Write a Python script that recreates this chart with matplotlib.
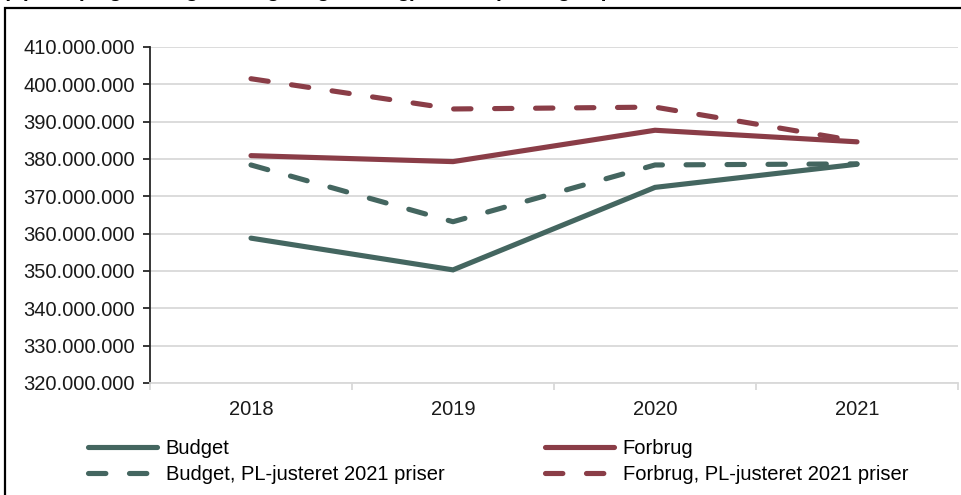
import matplotlib
matplotlib.use("Agg")
import matplotlib.pyplot as plt
from matplotlib.patches import Rectangle
from matplotlib.ticker import FuncFormatter, FixedLocator

plt.rcParams['font.family'] = ['Liberation Sans', 'DejaVu Sans']
plt.rcParams['lines.scale_dashes'] = False

# data (kr.)
years = ['2018', '2019', '2020', '2021']
budget = [358.8e6, 350.3e6, 372.4e6, 378.6e6]
forbrug = [380.9e6, 379.3e6, 387.7e6, 384.6e6]
budget_pl = [378.4e6, 363.2e6, 378.4e6, 378.7e6]
forbrug_pl = [401.5e6, 393.4e6, 393.9e6, 384.8e6]

green = '#446660'
red = '#8a3d47'

fig = plt.figure(figsize=(9.61, 4.95), dpi=100)

# outer frame + cut-off heading
fig.patches.append(Rectangle((5/961, -0.05), 1.0, 1 - 8/495 + 0.05, transform=fig.transFigure,
                             fill=False, edgecolor='#000000', linewidth=1.6))
fig.text(0.003, 1 + 3/495, '(opdelt på grundlag af budget og forbrug), samt opdeling af priser',
         fontsize=15, fontweight='bold', va='baseline', ha='left', color='black')

ax = fig.add_axes([150/961, 112/495, 808/961, 336/495])

x = range(len(years))
lw = 3.7
ax.plot(x, budget, color=green, lw=lw, solid_capstyle='round', solid_joinstyle='miter', label='Budget')
ax.plot(x, forbrug, color=red, lw=lw, solid_capstyle='round', solid_joinstyle='miter', label='Forbrug')
ax.plot(x, budget_pl, color=green, lw=lw, dashes=(12.5, 17), dash_capstyle='round',
        label='Budget, PL-justeret 2021 priser')
ax.plot(x, forbrug_pl, color=red, lw=lw, dashes=(12.5, 17), dash_capstyle='round',
        label='Forbrug, PL-justeret 2021 priser')

ax.set_xlim(-0.5, 3.5)
ax.set_ylim(320e6, 410e6)
ax.set_yticks([320e6 + i * 10e6 for i in range(10)])
ax.yaxis.set_major_formatter(FuncFormatter(lambda v, p: f"{v:,.0f}".replace(",", ".")))
ax.set_xticks(list(x))
ax.set_xticklabels(years)
ax.xaxis.set_minor_locator(FixedLocator([-0.5, 0.5, 1.5, 2.5, 3.5]))

ax.grid(axis='y', color='#d9d9d9', lw=1.3)
ax.set_axisbelow(True)
for s in ['top', 'right']:
    ax.spines[s].set_visible(False)
ax.spines['left'].set_color('#262626')
ax.spines['left'].set_linewidth(1.3)
ax.spines['bottom'].set_color('#d9d9d9')
ax.spines['bottom'].set_linewidth(1.3)

ax.tick_params(axis='y', labelsize=14.5, length=5, width=1.3, color='#262626', pad=6, labelcolor='#1a1a1a')
ax.tick_params(axis='x', which='major', labelsize=14.5, length=0, pad=12, labelcolor='#1a1a1a')
ax.tick_params(axis='x', which='minor', length=5, width=1.3, color='#d9d9d9')

h, l = ax.get_legend_handles_labels()
order = [0, 2, 1, 3]
leg = fig.legend([h[i] for i in order], [l[i] for i in order], ncol=2,
                 loc='upper left', bbox_to_anchor=(80/961, 1 - 431/495),
                 frameon=False, fontsize=14.5, handlelength=3.4, handletextpad=0.45,
                 columnspacing=5.0, labelspacing=0.35, borderaxespad=0)

fig.savefig('out.png', dpi=100)
